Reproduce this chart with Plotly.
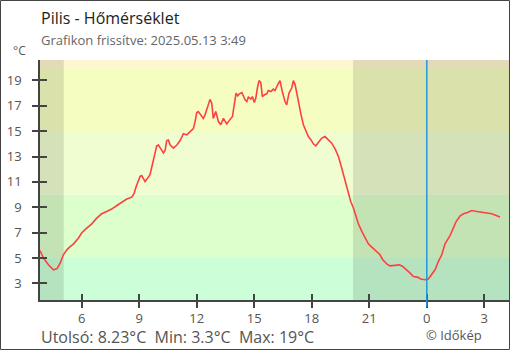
import plotly.graph_objects as go

# ---- data ----
hours = [3.82, 4.00, 4.26, 4.52, 4.70, 4.87, 5.04, 5.22, 5.39, 5.56, 5.82, 6.00, 6.26, 6.52, 6.78,
         7.04, 7.30, 7.56, 7.83, 8.09, 8.35, 8.61, 8.73, 8.83, 8.92, 9.04, 9.13, 9.30, 9.44, 9.56,
         9.68, 9.77, 9.91, 10.00, 10.12, 10.26, 10.35, 10.43, 10.52, 10.61, 10.78, 10.96, 11.13,
         11.30, 11.48, 11.65, 11.82, 11.91, 12.00, 12.08, 12.26, 12.34, 12.43, 12.52, 12.69, 12.78,
         12.86, 12.99, 13.13, 13.25, 13.39, 13.56, 13.74, 13.86, 13.94, 14.05, 14.14, 14.22, 14.35,
         14.43, 14.52, 14.61, 14.69, 14.82, 14.90, 15.00, 15.08, 15.16, 15.25, 15.34, 15.42, 15.53,
         15.65, 15.73, 15.87, 15.99, 16.08, 16.22, 16.34, 16.46, 16.60, 16.69, 16.81, 16.95, 17.04,
         17.13, 17.21, 17.33, 17.44, 17.56, 17.68, 17.82, 17.96, 18.08, 18.21, 18.34, 18.52, 18.69,
         18.86, 19.04, 19.22, 19.39, 19.56, 19.68, 19.79, 19.91, 20.03, 20.17, 20.31, 20.43, 20.61,
         20.78, 20.95, 21.13, 21.35, 21.56, 21.70, 21.91, 22.08, 22.26, 22.43, 22.57, 22.74, 22.95,
         23.13, 23.30, 23.51, 23.68, 23.91, 24.08, 24.26, 24.43, 24.60, 24.78, 24.95, 25.07, 25.21,
         25.36, 25.53, 25.74, 25.91, 26.12, 26.35, 26.61, 26.87, 27.13, 27.39, 27.65, 27.82]
temps = [5.6, 5.0, 4.47, 4.08, 4.15, 4.6, 5.26, 5.65, 5.9, 6.1, 6.57, 7.0, 7.36, 7.7, 8.15,
         8.49, 8.67, 8.86, 9.14, 9.4, 9.65, 9.8, 10.1, 10.6, 11.03, 11.43, 11.5, 11.03, 11.3, 11.56,
         12.35, 13.0, 13.84, 13.9, 13.6, 13.27, 13.5, 14.26, 14.3, 13.9, 13.66, 13.9, 14.26,
         14.8, 14.7, 14.97, 15.2, 15.75, 16.46, 16.54, 16.2, 16.0, 16.28, 16.68, 17.5, 17.2,
         16.0, 16.54, 15.75, 15.5, 16.0, 15.57, 15.89, 16.15, 16.94, 17.99, 17.78, 17.94, 18.04,
         17.72, 17.46, 17.33, 17.68, 17.52, 17.72, 17.25, 17.6, 18.39, 18.98, 18.83, 17.72, 17.86,
         17.94, 18.2, 18.12, 18.31, 18.2, 18.65, 18.98, 18.12, 17.33, 17.07, 18.0, 18.39, 18.98,
         18.65, 18.0, 17.2, 16.28, 15.5, 15.05, 14.57, 14.31, 14.0, 13.84, 14.1, 14.45, 14.57,
         14.31, 14.05, 13.58, 13.0, 12.09, 11.43, 10.64, 10.06, 9.46, 8.94, 8.28, 7.7, 7.1,
         6.57, 6.13, 5.87, 5.57, 5.26, 4.87, 4.55, 4.39, 4.42, 4.39, 4.47, 4.34, 4.08,
         3.82, 3.55, 3.5, 3.35, 3.3, 3.35, 3.69, 4.08, 4.73, 5.26, 6.13, 6.44, 6.76,
         7.28, 7.88, 8.33, 8.49, 8.59, 8.75, 8.67, 8.62, 8.59, 8.49, 8.33, 8.23]

x_tick_vals = [6, 9, 12, 15, 18, 21, 24, 27]
x_tick_text = ["6", "9", "12", "15", "18", "21", "0", "3"]
y_tick_vals = [3, 5, 7, 9, 11, 13, 15, 17, 19]
x_range = [3.82, 28.34]
y_range = [1.7, 20.6]
band_edges = [1.7, 5, 10, 15, 20, 20.6]
band_colors = ["#ccffd8", "#ddffcc", "#effdd0", "#f5fdc0", "#fff5d0"]
sunrise = 5.06
sunset = 20.15
midnight = 24

title = "Pilis - Hőmérséklet"
subtitle = "Grafikon frissítve: 2025.05.13 3:49"
footer = "Utolsó: 8.23°C\u00a0\u00a0Min: 3.3°C\u00a0\u00a0Max: 19°C"
credit = "© Időkép"

FONT = "Open Sans"
AX = "#444444"

fig = go.Figure()
fig.add_trace(go.Scatter(x=hours, y=temps, mode="lines",
                         line=dict(color="#ff4040", width=1.6),
                         hoverinfo="skip", showlegend=False))
# invisible trace to activate overlay axes (for inner ticks)
fig.add_trace(go.Scatter(x=hours, y=temps, mode="lines", xaxis="x2", yaxis="y2",
                         line=dict(width=0), opacity=0, hoverinfo="skip", showlegend=False))

shapes = []
for i, c in enumerate(band_colors):
    shapes.append(dict(type="rect", xref="paper", yref="y", x0=0, x1=1,
                       y0=band_edges[i], y1=band_edges[i + 1],
                       fillcolor=c, line=dict(width=0), layer="below"))
for a, b in [(x_range[0], sunrise), (sunset, x_range[1])]:
    shapes.append(dict(type="rect", xref="x", yref="paper", x0=a, x1=b, y0=0, y1=1,
                       fillcolor="rgba(0,0,0,0.11)", line=dict(width=0), layer="below"))
shapes.append(dict(type="line", xref="x", yref="paper", x0=midnight, x1=midnight,
                   y0=-0.028, y1=1, line=dict(color="#2196e0", width=1.5), layer="above"))
# outer frame
shapes.append(dict(type="rect", xref="paper", yref="paper",
                   x0=-39.5 / 470, x1=469.5 / 470, y0=-49.5 / 240, y1=299.5 / 240,
                   line=dict(color=AX, width=1), fillcolor="rgba(0,0,0,0)", layer="above"))

axis_common = dict(showgrid=False, zeroline=False)
fig.update_layout(
    width=510, height=350,
    margin=dict(l=40, r=0, t=60, b=50, pad=0),
    paper_bgcolor="white", plot_bgcolor="white",
    font=dict(family=FONT, color="#555555", size=13),
    shapes=shapes,
    xaxis=dict(range=x_range, tickvals=x_tick_vals, ticktext=x_tick_text,
               ticks="outside", ticklen=6, tickwidth=1.5, tickcolor=AX,
               showline=True, linecolor=AX, linewidth=1.5,
               tickfont=dict(size=13, color="#555555"), **axis_common),
    xaxis2=dict(range=x_range, overlaying="x", side="bottom", anchor="y",
                tickvals=x_tick_vals, ticks="inside", ticklen=6, tickwidth=1.5,
                tickcolor=AX, showticklabels=False, showline=False, **axis_common),
    yaxis=dict(range=y_range, tickvals=y_tick_vals, ticks="outside", ticklen=6,
               tickwidth=1.5, tickcolor=AX, showline=True, linecolor=AX, linewidth=1.5,
               ticklabelstandoff=8,
               tickfont=dict(size=13, color="#555555"), **axis_common),
    yaxis2=dict(range=y_range, overlaying="y", side="left", anchor="x",
                tickvals=y_tick_vals, ticks="inside", ticklen=7, tickwidth=1.5,
                tickcolor=AX, showticklabels=False, showline=False, **axis_common),
    annotations=[
        dict(text=title, xref="paper", yref="paper", x=0, y=(300 - 18) / 240,
             xanchor="left", yanchor="middle", showarrow=False, borderpad=0,
             font=dict(size=16, color="#222222", family=FONT)),
        dict(text=subtitle, xref="paper", yref="paper", x=0, y=(300 - 40.5) / 240,
             xanchor="left", yanchor="middle", showarrow=False, borderpad=0,
             font=dict(size=13, color="#666666", family=FONT)),
        dict(text="°C", xref="paper", yref="paper", x=-28 / 470, y=(300 - 51) / 240,
             xanchor="left", yanchor="middle", showarrow=False, borderpad=0,
             font=dict(size=12, color="#555555", family=FONT)),
        dict(text=footer, xref="paper", yref="paper", x=0, y=(300 - 337) / 240,
             xanchor="left", yanchor="middle", showarrow=False, borderpad=0,
             font=dict(size=16, color="#555555", family=FONT)),
        dict(text=credit, xref="paper", yref="paper", x=(483 - 40) / 470, y=(300 - 335) / 240,
             xanchor="right", yanchor="middle", showarrow=False, borderpad=0,
             font=dict(size=13, color="#555555", family=FONT)),
    ],
)

fig.write_html("out.html")
